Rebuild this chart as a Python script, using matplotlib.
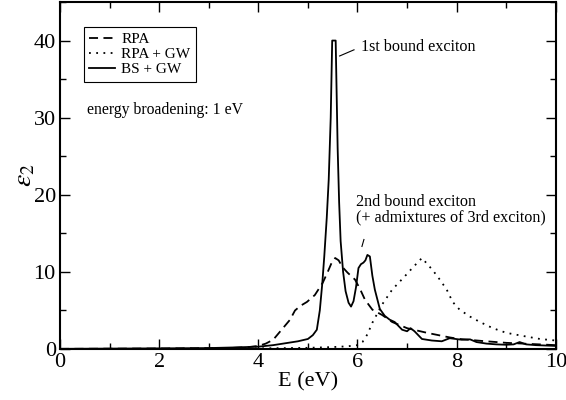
import matplotlib
matplotlib.use("Agg")
import matplotlib.pyplot as plt
from matplotlib.ticker import MultipleLocator

matplotlib.rcParams["font.family"] = ["Liberation Serif", "DejaVu Serif"]
matplotlib.rcParams["mathtext.fontset"] = "stix"

# RPA (dashed)
rpa_e = [0, 1, 2, 3, 3.5, 3.8, 4.0, 4.15, 4.3, 4.47, 4.64, 4.74, 4.85, 4.98,
         5.14, 5.3, 5.4, 5.48, 5.55, 5.62, 5.7, 5.8, 5.95, 6.05, 6.15, 6.3,
         6.5, 6.7, 7.0, 7.4, 7.86, 8.06, 8.5, 9.0, 9.5, 10]
rpa_eps = [0.02, 0.04, 0.06, 0.1, 0.15, 0.25, 0.4, 0.7, 1.2, 2.5, 3.8, 5.0,
           5.6, 6.1, 7.0, 8.6, 10.0, 11.2, 11.8, 11.5, 10.6, 9.9, 9.0, 7.8,
           6.4, 5.1, 4.4, 3.5, 2.7, 2.1, 1.5, 1.3, 1.05, 0.8, 0.65, 0.5]

# RPA + GW (dotted)
gw_e = [0, 2, 4, 5, 5.5, 5.8, 6.0, 6.1, 6.2, 6.3, 6.5, 6.7, 6.95, 7.12, 7.3,
        7.52, 7.66, 7.8, 7.92, 8.06, 8.27, 8.47, 8.73, 9.0, 9.33, 9.68, 10]
gw_eps = [0.0, 0.02, 0.08, 0.15, 0.25, 0.35, 0.5, 0.9, 1.9, 3.4, 5.8, 7.7, 9.4,
          10.6, 11.8, 10.2, 9.0, 7.7, 6.1, 5.1, 4.2, 3.5, 2.7, 2.1, 1.7, 1.3,
          1.1]

# BS + GW (solid)
bs_e = [0, 1, 2, 3, 3.5, 4.0, 4.3, 4.6, 4.8, 5.0, 5.1, 5.18, 5.24, 5.29, 5.33,
        5.38, 5.42, 5.46, 5.49, 5.56, 5.6, 5.63, 5.66, 5.71, 5.76, 5.82, 5.87,
        5.92, 5.97, 6.02, 6.07, 6.12, 6.16, 6.2, 6.25, 6.3, 6.35, 6.45, 6.55,
        6.65, 6.75, 6.9, 7.0, 7.07, 7.15, 7.3, 7.5, 7.7, 7.86, 8.1, 8.27, 8.4,
        8.6, 8.8, 9.0, 9.15, 9.27, 9.4, 9.6, 9.8, 10]
bs_eps = [0.02, 0.05, 0.08, 0.12, 0.2, 0.3, 0.5, 0.8, 1.0, 1.3, 1.8, 2.5, 5.0,
          8.5, 12.0, 17.0, 22.0, 30.0, 40.0, 40.0, 26.0, 19.0, 14.0, 10.0,
          7.5, 6.0, 5.5, 6.2, 8.0, 10.5, 11.0, 11.2, 11.5, 12.2, 12.0, 9.5,
          7.7, 5.2, 4.3, 3.8, 3.5, 2.5, 2.3, 2.7, 2.3, 1.3, 1.1, 1.0, 1.4, 1.2,
          1.25, 0.9, 0.7, 0.6, 0.55, 0.6, 0.9, 0.6, 0.5, 0.45, 0.4]

# annotation positions (data coords)
note1_text = (6.07, 39.2)
note1_line = ([5.64, 5.93], [38.0, 38.8])
note2_text = (5.97, 18.05)
note2_line = ([6.09, 6.13], [13.3, 14.2])
broad_text = (0.54, 31.0)

fig = plt.figure(figsize=(5.66, 4.0), dpi=100)
ax = fig.add_axes([0.106, 0.1275, 0.876, 0.8675])

lw = 1.3
ax.plot(rpa_e, rpa_eps, color="black", lw=lw, linestyle=(0, (5, 3)), label="RPA")
ax.plot(gw_e, gw_eps, color="black", lw=lw, linestyle=(0, (1, 3)), label="RPA + GW")
ax.plot(bs_e, bs_eps, color="black", lw=lw, linestyle="-", label="BS + GW")

ax.set_xlim(0, 10)
ax.set_ylim(0, 45)
ax.xaxis.set_major_locator(MultipleLocator(2))
ax.xaxis.set_minor_locator(MultipleLocator(1))
ax.yaxis.set_major_locator(MultipleLocator(10))
ax.yaxis.set_minor_locator(MultipleLocator(5))
ax.tick_params(which="both", direction="in", top=True, right=True, width=1.0)
ax.tick_params(which="major", length=7, labelsize=16)
ax.tick_params(axis="x", which="major", pad=3)
ax.tick_params(axis="y", which="major", pad=3)
ax.tick_params(which="minor", length=4)
for s in ax.spines.values():
    s.set_linewidth(1.5)

ax.set_xlabel("E (eV)", fontsize=16, labelpad=0)
ax.set_ylabel(r"$\varepsilon_2$", fontsize=20, labelpad=-3)

leg = ax.legend(loc="upper left", bbox_to_anchor=(0.048, 0.928), borderaxespad=0,
                fontsize=11, fancybox=False, framealpha=1, edgecolor="black",
                handlelength=1.7, handletextpad=0.4, labelspacing=0.1,
                borderpad=0.35)
leg.get_frame().set_linewidth(0.8)

ax.text(*broad_text, "energy broadening: 1 eV", fontsize=11.3, va="center")
ax.text(*note1_text, "1st bound exciton", fontsize=11.6, va="center")
ax.plot(*note1_line, color="black", lw=0.8)
ax.text(*note2_text, "2nd bound exciton\n(+ admixtures of 3rd exciton)",
        fontsize=11.6, va="center", linespacing=0.95)
ax.plot(*note2_line, color="black", lw=0.8)

fig.savefig("out.png", dpi=100)
